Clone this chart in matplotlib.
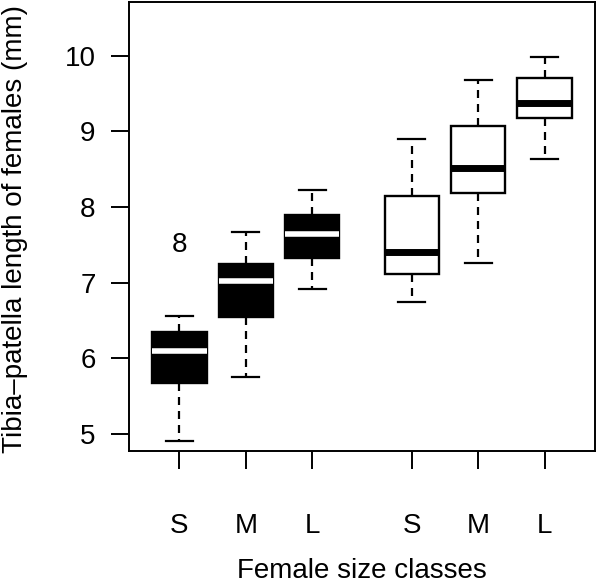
import numpy as np
import matplotlib.pyplot as plt

plt.rcParams['font.family'] = ['Liberation Sans', 'DejaVu Sans']

# box statistics (mm)
labels = ['S', 'M', 'L', 'S', 'M', 'L']
positions = [1, 2, 3, 4.5, 5.5, 6.5]
whislo = [4.91, 5.75, 6.92, 6.74, 7.26, 8.64]
q1 = [5.67, 6.55, 7.32, 7.11, 8.18, 9.17]
med = [6.10, 7.02, 7.64, 7.40, 8.52, 9.38]
q3 = [6.35, 7.25, 7.89, 8.15, 9.07, 9.70]
whishi = [6.56, 7.67, 8.22, 8.90, 9.68, 9.98]
filled = [True, True, True, False, False, False]
outlier_x = [1]
outlier_y = [7.50]

fs = 20

fig = plt.figure(figsize=(5.97, 5.8), dpi=100)
ax = fig.add_axes([0.216, 0.223, 0.7806, 0.7736])

stats = []
for i in range(len(labels)):
    stats.append(dict(whislo=whislo[i], q1=q1[i], med=med[i], q3=q3[i],
                      whishi=whishi[i], fliers=[], label=labels[i]))

dash = (0, (3.6, 2.7))
for i, s in enumerate(stats):
    face = 'black' if filled[i] else 'white'
    medc = 'white' if filled[i] else 'black'
    medw = 4.0 if filled[i] else 5.0
    ax.bxp([s], positions=[positions[i]], widths=0.82, patch_artist=True,
           showfliers=False,
           boxprops=dict(facecolor=face, edgecolor='black', linewidth=1.7),
           medianprops=dict(color=medc, linewidth=medw, solid_capstyle='butt'),
           whiskerprops=dict(color='black', linewidth=1.6, linestyle=dash),
           capprops=dict(color='black', linewidth=1.6),
           capwidths=0.41, manage_ticks=False)

# outlier drawn as the character "8"
for x, y in zip(outlier_x, outlier_y):
    ax.text(x, y, '8', ha='center', va='center', fontsize=fs)

ax.set_xlim(0.24, 7.26)
ax.set_ylim(4.78, 10.71)
ax.set_xticks(positions)
ax.set_xticklabels(labels)
ax.set_yticks([5, 6, 7, 8, 9, 10])
ax.tick_params(axis='both', length=13, width=1.4, labelsize=fs)
ax.tick_params(axis='y', pad=11)
ax.tick_params(axis='x', pad=32)
for sp in ax.spines.values():
    sp.set_linewidth(1.4)

fig.text((237 + 487) / 2 / 597, 2 / 580, 'Female size classes',
         ha='center', va='baseline', fontsize=fs)
fig.text(22 / 597, (580 - 453) / 580, 'Tibia–patella length of females (mm)',
         rotation=90, rotation_mode='anchor', ha='left', va='baseline',
         fontsize=fs)

fig.savefig('out.png', dpi=100)
